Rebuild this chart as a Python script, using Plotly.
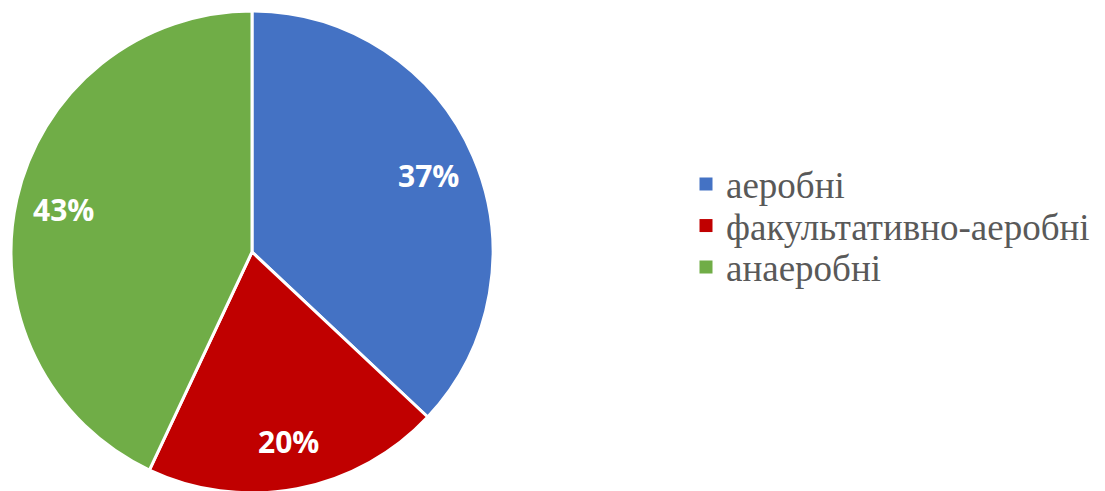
import math
import plotly.graph_objects as go

labels = ["аеробні", "факультативно-аеробні", "анаеробні"]
values = [37, 20, 43]
colors = ["#4472C4", "#C00000", "#70AD47"]

W, H = 1105, 491
OFF = 8  # default page body margin

dom_x = [(11 - OFF) / W, (493 - OFF) / W]
dom_y = [1 - (493 - OFF) / H, 1 - (11 - OFF) / H]

fig = go.Figure()
fig.add_trace(go.Pie(
    labels=labels,
    values=values,
    sort=False,
    direction="clockwise",
    rotation=0,
    marker=dict(colors=colors, line=dict(color="white", width=3)),
    textinfo="none",
    domain=dict(x=dom_x, y=dom_y),
    hoverinfo="label+percent",
    showlegend=False,
))

# legend entries: one legend per row so the row spacing matches
legend_rows_px = [184.5, 226, 267.5]
legend_names = ["legend", "legend2", "legend3"]
legend_font = dict(family="Times New Roman, Liberation Serif, serif", size=37, color="#595959")
for lab, col, lname in zip(labels, colors, legend_names):
    fig.add_trace(go.Scatter(
        x=[None], y=[None], mode="markers", name=lab,
        marker=dict(symbol="square", size=13, color=col),
        hoverinfo="skip", legend=lname,
    ))

legend_layout = {}
for lname, row in zip(legend_names, legend_rows_px):
    legend_layout[lname] = dict(
        x=(686 - OFF) / W, y=1 - (row - OFF) / H, xanchor="left", yanchor="middle",
        font=legend_font, bgcolor="rgba(0,0,0,0)", borderwidth=0,
    )

# percentage labels placed along each slice's mid-angle
total = sum(values)
cx_px = (dom_x[0] + dom_x[1]) / 2 * W
cy_px = (dom_y[0] + dom_y[1]) / 2 * H
r_px = min((dom_x[1] - dom_x[0]) * W, (dom_y[1] - dom_y[0]) * H) / 2
cum = 0
for v in values:
    mid = (cum + v / 2) / total * 2 * math.pi
    cum += v
    px = cx_px + 0.80 * r_px * math.sin(mid)
    py = cy_px + 0.80 * r_px * math.cos(mid)
    fig.add_annotation(
        x=px / W, y=py / H, xref="paper", yref="paper",
        text=f"{round(v / total * 100)}%", showarrow=False,
        font=dict(family="Open Sans", size=30, color="white", weight="bold"),
        xanchor="center", yanchor="middle",
    )

fig.update_layout(
    width=W, height=H,
    margin=dict(l=0, r=0, t=0, b=0),
    paper_bgcolor="white",
    plot_bgcolor="white",
    xaxis=dict(visible=False),
    yaxis=dict(visible=False),
    showlegend=True,
    **legend_layout,
)

fig.write_html("out.html")
